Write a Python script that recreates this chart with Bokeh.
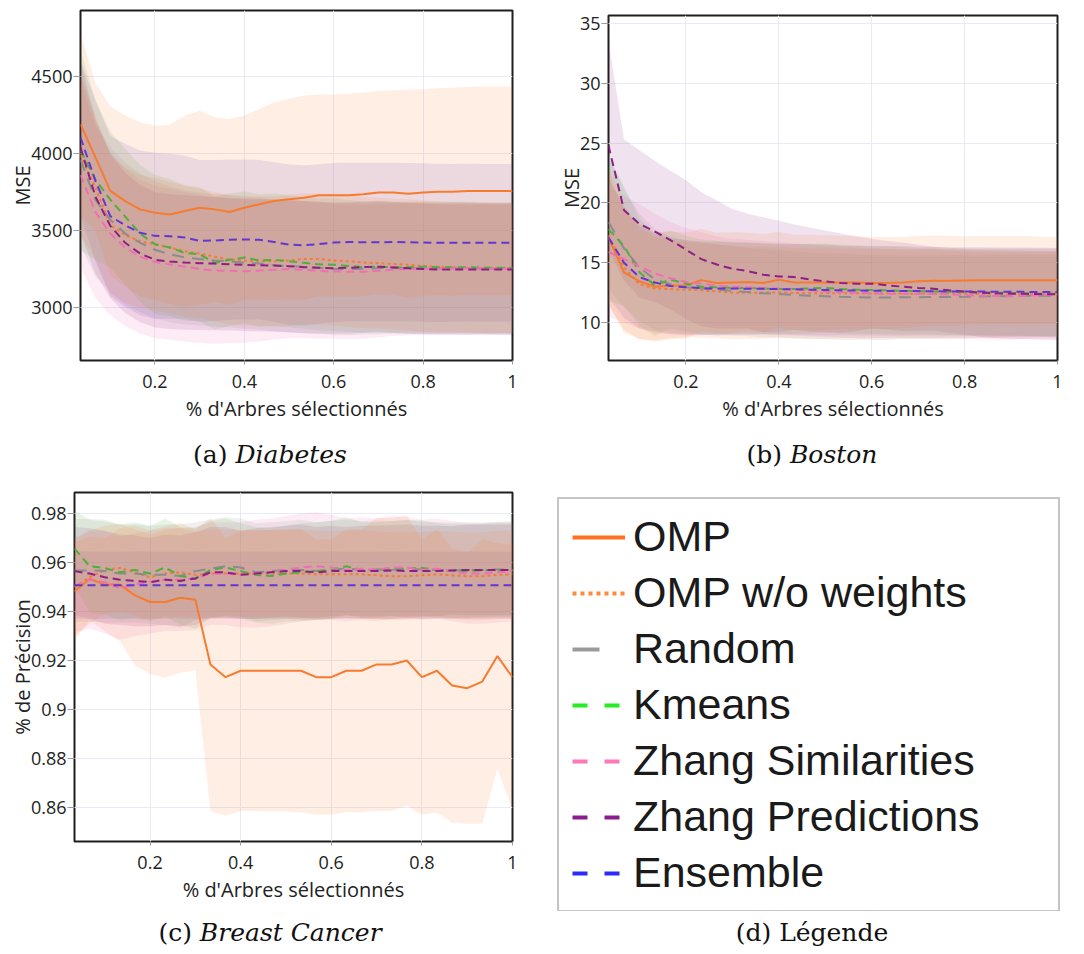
from bokeh.plotting import figure
from bokeh.models import Range1d, FixedTicker, Div, Legend, LegendItem
from bokeh.layouts import column, row
from bokeh.embed import file_html
from bokeh.resources import INLINE

# ---------------- data ----------------
X_FRAC = [0.0333, 0.0667, 0.1, 0.1333, 0.1667, 0.2, 0.2333, 0.2667, 0.3, 0.3333,
          0.3667, 0.4, 0.4333, 0.4667, 0.5, 0.5333, 0.5667, 0.6, 0.6333, 0.6667,
          0.7, 0.7333, 0.7667, 0.8, 0.8333, 0.8667, 0.9, 0.9333, 0.9667, 1.0]
X_TICKS = [0.2, 0.4, 0.6, 0.8, 1.0]
X_TICK_LABELS = ["0.2", "0.4", "0.6", "0.8", "1"]
X_TITLE = "% d'Arbres sélectionnés"

SERIES = ["OMP", "OMP w/o weights", "Random", "Kmeans",
          "Zhang Similarities", "Zhang Predictions", "Ensemble"]

# (a) Diabetes - MSE
DIA_Y_TICKS = [3000, 3500, 4000, 4500]
DIA_Y_TICK_LABELS = ["3000", "3500", "4000", "4500"]
DIA_OMP = [4190, 3975, 3757, 3691, 3637, 3615, 3604, 3626, 3648, 3637, 3620, 3648, 3670, 3691, 3702,
           3713, 3728, 3728, 3728, 3735, 3746, 3746, 3739, 3746, 3752, 3752, 3757, 3757, 3757, 3757]
DIA_OMP_SD = [590, 480, 550, 555, 565, 565, 583, 620, 630, 598, 604, 598, 619, 642, 652,
              663, 655, 655, 660, 660, 660, 665, 675, 670, 672, 675, 675, 678, 678, 678]
DIA_OMPW = [3990, 3780, 3535, 3470, 3430, 3410, 3390, 3365, 3350, 3330, 3311, 3305, 3300, 3300, 3305,
            3315, 3315, 3305, 3300, 3292, 3288, 3282, 3278, 3268, 3265, 3261, 3258, 3257, 3257, 3257]
DIA_OMPW_SD = [520, 470, 450, 440, 432, 430, 426, 425, 422, 420, 420, 421, 420, 422, 425,
               426, 425, 424, 425, 426, 425, 424, 425, 426, 425, 424, 425, 425, 424, 425]
DIA_RND = [3960, 3700, 3570, 3480, 3420, 3375, 3345, 3325, 3315, 3305, 3300, 3290, 3285, 3275, 3270,
           3262, 3258, 3250, 3250, 3252, 3255, 3258, 3255, 3255, 3253, 3255, 3255, 3252, 3252, 3255]
DIA_RND_SD = [560, 500, 470, 460, 450, 445, 440, 435, 432, 430, 428, 428, 430, 430, 432,
              430, 428, 430, 430, 428, 428, 426, 426, 425, 425, 425, 424, 424, 424, 424]
DIA_KM = [4020, 3830, 3700, 3590, 3480, 3410, 3390, 3354, 3345, 3290, 3310, 3325, 3305, 3310, 3300,
          3290, 3280, 3278, 3270, 3262, 3265, 3262, 3262, 3265, 3262, 3262, 3262, 3260, 3258, 3258]
DIA_KM_SD = [650, 520, 440, 440, 445, 450, 445, 440, 435, 432, 430, 428, 430, 430, 428,
             428, 428, 430, 428, 426, 426, 425, 425, 425, 424, 424, 424, 424, 424, 424]
DIA_ZS = [3860, 3620, 3480, 3390, 3330, 3295, 3280, 3265, 3250, 3240, 3238, 3236, 3240, 3245, 3250,
          3245, 3238, 3235, 3232, 3232, 3238, 3245, 3250, 3252, 3252, 3255, 3255, 3254, 3252, 3252]
DIA_ZS_SD = [600, 560, 530, 510, 500, 495, 490, 485, 480, 475, 470, 465, 460, 455, 450,
             445, 440, 438, 436, 434, 432, 430, 430, 428, 428, 426, 426, 425, 425, 425]
DIA_ZP = [4040, 3720, 3530, 3420, 3350, 3310, 3298, 3292, 3288, 3285, 3280, 3277, 3274, 3272, 3268,
          3262, 3258, 3255, 3258, 3262, 3265, 3260, 3255, 3250, 3247, 3246, 3246, 3247, 3246, 3246]
DIA_ZP_SD = [560, 500, 470, 455, 445, 440, 438, 436, 434, 432, 430, 430, 430, 428, 428,
             428, 428, 426, 426, 426, 426, 425, 425, 425, 424, 424, 424, 424, 424, 424]
DIA_ENS = [4104, 3822, 3593, 3533, 3485, 3465, 3463, 3455, 3432, 3435, 3440, 3442, 3440, 3425, 3408,
           3404, 3412, 3422, 3425, 3424, 3424, 3425, 3424, 3422, 3420, 3420, 3421, 3420, 3420, 3420]
DIA_ENS_SD = [500, 520, 520, 530, 535, 540, 535, 530, 525, 522, 520, 518, 518, 518, 520,
              520, 518, 516, 515, 515, 515, 515, 514, 514, 514, 512, 512, 512, 512, 512]

# (b) Boston - MSE
BOS_Y_TICKS = [10, 15, 20, 25, 30, 35]
BOS_Y_TICK_LABELS = ["10", "15", "20", "25", "30", "35"]
BOS_OMP = [17.1, 14.2, 13.45, 13.0, 13.1, 13.1, 13.55, 13.3, 13.35, 13.4, 13.3, 13.58, 13.35, 13.35, 13.35,
           13.35, 13.35, 13.3, 13.3, 13.35, 13.45, 13.5, 13.5, 13.52, 13.53, 13.53, 13.53, 13.53, 13.53, 13.53]
BOS_OMP_SD = [5.5, 5.1, 4.8, 4.6, 4.5, 4.4, 4.3, 4.2, 4.2, 4.1, 4.1, 4.0, 4.0, 4.0, 3.95,
              3.9, 3.9, 3.85, 3.85, 3.8, 3.8, 3.75, 3.75, 3.7, 3.7, 3.7, 3.7, 3.7, 3.65, 3.65]
BOS_OMPW = [17.3, 14.6, 13.2, 12.85, 12.8, 12.75, 12.7, 12.6, 12.5, 12.48, 12.5, 12.52, 12.48, 12.45, 12.45,
            12.45, 12.45, 12.43, 12.43, 12.42, 12.42, 12.42, 12.4, 12.4, 12.4, 12.4, 12.4, 12.38, 12.38, 12.38]
BOS_OMPW_SD = [5.8, 5.2, 4.6, 4.3, 4.1, 4.0, 3.95, 3.9, 3.9, 3.85, 3.85, 3.8, 3.8, 3.8, 3.8,
               3.75, 3.75, 3.75, 3.7, 3.7, 3.7, 3.7, 3.65, 3.65, 3.65, 3.65, 3.6, 3.6, 3.6, 3.6]
BOS_RND = [18.4, 16.2, 14.6, 13.6, 13.2, 12.95, 12.85, 12.75, 12.65, 12.55, 12.45, 12.4, 12.3, 12.25, 12.2,
           12.15, 12.12, 12.1, 12.1, 12.12, 12.12, 12.13, 12.14, 12.15, 12.18, 12.2, 12.22, 12.25, 12.25, 12.25]
BOS_RND_SD = [5.6, 4.9, 4.5, 4.2, 4.0, 3.9, 3.85, 3.8, 3.75, 3.7, 3.7, 3.65, 3.65, 3.6, 3.6,
              3.6, 3.55, 3.55, 3.55, 3.5, 3.5, 3.5, 3.5, 3.5, 3.45, 3.45, 3.45, 3.45, 3.45, 3.45]
BOS_KM = [17.8, 16.4, 14.2, 13.1, 13.6, 13.25, 13.0, 12.95, 12.9, 12.9, 12.85, 12.8, 12.8, 12.85, 12.9,
          12.8, 12.75, 12.72, 12.7, 12.65, 12.62, 12.6, 12.58, 12.55, 12.52, 12.5, 12.48, 12.45, 12.42, 12.4]
BOS_KM_SD = [6.0, 5.0, 4.5, 4.2, 4.1, 4.0, 3.95, 3.9, 3.85, 3.8, 3.8, 3.75, 3.75, 3.75, 3.7,
             3.7, 3.7, 3.65, 3.65, 3.65, 3.6, 3.6, 3.6, 3.6, 3.55, 3.55, 3.55, 3.55, 3.55, 3.55]
BOS_ZS = [15.9, 15.3, 14.7, 14.1, 13.7, 13.4, 13.25, 13.1, 13.0, 12.95, 12.9, 12.85, 12.75, 12.7, 12.6,
          12.55, 12.5, 12.45, 12.42, 12.4, 12.4, 12.38, 12.35, 12.3, 12.25, 12.22, 12.2, 12.25, 12.3, 12.3]
BOS_ZS_SD = [5.4, 5.3, 5.2, 5.0, 4.7, 4.5, 4.3, 4.1, 4.0, 3.95, 3.9, 3.9, 3.85, 3.85, 3.8,
             3.8, 3.8, 3.75, 3.75, 3.7, 3.7, 3.7, 3.7, 3.65, 3.65, 3.65, 3.65, 3.6, 3.6, 3.6]
BOS_ZP = [24.8, 19.4, 18.25, 17.6, 16.9, 16.1, 15.3, 14.85, 14.5, 14.3, 14.0, 13.86, 13.8, 13.6, 13.45,
          13.3, 13.25, 13.25, 13.12, 13.0, 12.9, 12.83, 12.7, 12.6, 12.5, 12.45, 12.42, 12.4, 12.38, 12.36]
BOS_ZP_SD = [8.7, 5.9, 6.15, 5.9, 5.8, 5.8, 5.6, 5.35, 5.0, 4.8, 4.8, 4.65, 4.4, 4.35, 4.25,
             4.15, 3.95, 3.75, 3.7, 3.7, 3.6, 3.5, 3.55, 3.6, 3.7, 3.75, 3.78, 3.8, 3.82, 3.84]
BOS_ENS = [17.1, 15.0, 13.8, 13.35, 13.05, 12.95, 12.88, 12.85, 12.85, 12.83, 12.82, 12.8, 12.78, 12.75, 12.72,
           12.7, 12.68, 12.66, 12.65, 12.64, 12.63, 12.62, 12.6, 12.6, 12.6, 12.58, 12.58, 12.57, 12.55, 12.55]
BOS_ENS_SD = [5.0, 4.6, 4.3, 4.1, 4.0, 3.95, 3.9, 3.9, 3.85, 3.85, 3.8, 3.8, 3.8, 3.8, 3.8,
              3.75, 3.75, 3.75, 3.75, 3.75, 3.7, 3.7, 3.7, 3.7, 3.7, 3.7, 3.7, 3.7, 3.7, 3.7]

# (c) Breast Cancer - accuracy
BC_Y_TICKS = [0.86, 0.88, 0.9, 0.92, 0.94, 0.96, 0.98]
BC_Y_TICK_LABELS = ["0.86", "0.88", "0.9", "0.92", "0.94", "0.96", "0.98"]
BC_OMP = [0.9482, 0.9534, 0.951, 0.951, 0.9466, 0.9439, 0.9439, 0.9456, 0.9448, 0.9184,
          0.9132, 0.9158, 0.9158, 0.9158, 0.9158, 0.9158, 0.9132, 0.9132, 0.9158, 0.9158,
          0.9184, 0.9184, 0.92, 0.9132, 0.9158, 0.9098, 0.9087, 0.9114, 0.9218, 0.9132]
BC_OMP_SD = [0.020, 0.017, 0.019, 0.023, 0.0286, 0.0294, 0.0309, 0.0306, 0.0288, 0.0598,
             0.0566, 0.0572, 0.0572, 0.0575, 0.0575, 0.0578, 0.0562, 0.0562, 0.0578, 0.0578,
             0.0598, 0.0598, 0.0593, 0.0562, 0.0578, 0.056, 0.0553, 0.058, 0.0461, 0.0539]
BC_OMPW = [0.950, 0.954, 0.957, 0.9578, 0.956, 0.954, 0.9555, 0.956, 0.955, 0.9555,
           0.9555, 0.9555, 0.9555, 0.9555, 0.9555, 0.9555, 0.9552, 0.9552, 0.9552, 0.9552,
           0.9548, 0.9544, 0.9544, 0.9548, 0.9552, 0.9548, 0.9544, 0.9544, 0.955, 0.9552]
BC_OMPW_SD = [0.020, 0.019, 0.018, 0.018, 0.0175, 0.0175, 0.018, 0.018, 0.0175, 0.018,
              0.018, 0.0178, 0.0178, 0.0178, 0.018, 0.018, 0.018, 0.0178, 0.0178, 0.018,
              0.018, 0.018, 0.0178, 0.0178, 0.0178, 0.0178, 0.018, 0.018, 0.018, 0.018]
BC_RND = [0.9568, 0.9568, 0.9565, 0.9555, 0.9555, 0.955, 0.955, 0.9545, 0.9565, 0.9575,
          0.9585, 0.958, 0.956, 0.9565, 0.957, 0.957, 0.9565, 0.957, 0.9575, 0.957,
          0.9572, 0.957, 0.9575, 0.9572, 0.957, 0.9568, 0.957, 0.957, 0.9572, 0.957]
BC_RND_SD = [0.021, 0.021, 0.021, 0.020, 0.020, 0.020, 0.0205, 0.021, 0.020, 0.020,
             0.020, 0.020, 0.020, 0.020, 0.020, 0.0205, 0.020, 0.020, 0.020, 0.020,
             0.020, 0.020, 0.020, 0.0195, 0.0195, 0.0195, 0.0195, 0.0195, 0.0195, 0.0195]
BC_KM = [0.9657, 0.9585, 0.9578, 0.956, 0.957, 0.9555, 0.958, 0.9545, 0.9535, 0.957,
         0.958, 0.9565, 0.955, 0.9545, 0.9555, 0.956, 0.9565, 0.957, 0.9585, 0.957,
         0.957, 0.9575, 0.9578, 0.9578, 0.957, 0.9565, 0.9565, 0.9568, 0.957, 0.957]
BC_KM_SD = [0.0155, 0.019, 0.019, 0.0195, 0.0195, 0.0195, 0.020, 0.020, 0.0205, 0.020,
            0.020, 0.0195, 0.0195, 0.0195, 0.0195, 0.020, 0.020, 0.020, 0.020, 0.0195,
            0.0195, 0.0195, 0.0195, 0.0195, 0.019, 0.019, 0.019, 0.019, 0.019, 0.019]
BC_ZS = [0.9505, 0.953, 0.952, 0.9495, 0.951, 0.952, 0.953, 0.953, 0.9535, 0.9555,
         0.9555, 0.955, 0.9555, 0.956, 0.957, 0.958, 0.9585, 0.958, 0.957, 0.9575,
         0.957, 0.958, 0.958, 0.957, 0.9575, 0.9565, 0.9555, 0.9555, 0.956, 0.9565]
BC_ZS_SD = [0.019, 0.020, 0.021, 0.021, 0.021, 0.021, 0.021, 0.021, 0.021, 0.021,
            0.021, 0.0215, 0.022, 0.022, 0.022, 0.022, 0.022, 0.0215, 0.021, 0.021,
            0.021, 0.021, 0.0205, 0.0205, 0.0205, 0.0205, 0.0205, 0.0205, 0.0205, 0.0205]
BC_ZP = [0.9565, 0.9555, 0.954, 0.953, 0.9525, 0.952, 0.953, 0.9525, 0.9535, 0.956,
         0.956, 0.955, 0.9555, 0.956, 0.9565, 0.9565, 0.956, 0.9565, 0.9565, 0.9565,
         0.9565, 0.9568, 0.9565, 0.9565, 0.9565, 0.9568, 0.957, 0.957, 0.957, 0.957]
BC_ZP_SD = [0.018, 0.0185, 0.019, 0.0185, 0.0185, 0.018, 0.0185, 0.0185, 0.019, 0.0185,
            0.0185, 0.018, 0.0185, 0.0185, 0.0185, 0.019, 0.0185, 0.0185, 0.018, 0.0185,
            0.0185, 0.0185, 0.019, 0.0185, 0.0185, 0.018, 0.0185, 0.0185, 0.0185, 0.0185]
BC_ENS = [0.9507, 0.9507, 0.9507, 0.9507, 0.9507, 0.9507, 0.9507, 0.9507, 0.9507, 0.9507,
          0.9507, 0.9507, 0.9507, 0.9507, 0.9507, 0.9507, 0.9507, 0.9507, 0.9507, 0.9507,
          0.9507, 0.9507, 0.9507, 0.9507, 0.9507, 0.9507, 0.9507, 0.9507, 0.9507, 0.9507]
BC_ENS_SD = [0.0137, 0.0138, 0.0137, 0.0137, 0.0138, 0.0137, 0.0137, 0.0137, 0.0138, 0.0137,
             0.0137, 0.0137, 0.0138, 0.0137, 0.0137, 0.0137, 0.0137, 0.0138, 0.0137, 0.0137,
             0.0137, 0.0138, 0.0137, 0.0137, 0.0137, 0.0137, 0.0138, 0.0137, 0.0137, 0.0137]

CAPTIONS = [("(a) ", "Diabetes"), ("(b) ", "Boston"), ("(c) ", "Breast Cancer"), ("(d) Légende", "")]

# ---------------- styles ----------------
LINE_COLORS = ["#f77b2e", "#f47c36", "#8c8c8c", "#4fae3c", "#f06eb4", "#8e1f86", "#6236d4"]
BAND_COLORS = ["#f77b2e", "#f47c36", "#8c8c8c", "#4fae3c", "#f06eb4", "#8e1f86", "#6440dc"]
LINE_DASHES = ["solid", "3 3", "12 8", "8 5", "8 5", "8 5", "8 5"]
LEG_COLORS = ["#ff7020", "#ff8a3a", "#9a9a9a", "#22ee22", "#ff77bb", "#8b1c8b", "#2a2aff"]
LEG_DASHES = ["solid", "4 4", "27 40", "15 17", "15 17", "15 17", "15 17"]
TICK_FONT = "Open Sans"


def make_panel(means, sds, width, height, y_rng, y_ticks, y_labels, y_title, borders):
    p = figure(width=width, height=height, output_backend="svg", toolbar_location=None,
               title=None,
               x_range=Range1d(X_FRAC[0], X_FRAC[-1]), y_range=Range1d(*y_rng),
               min_border_left=borders[0], min_border_right=borders[1],
               min_border_top=borders[2], min_border_bottom=borders[3])
    p.background_fill_color = "white"
    p.border_fill_color = "white"
    p.outline_line_color = "#1e1e1e"
    p.outline_line_width = 2
    # bands drawn in reverse series order so that the OMP band ends on top
    for m, s, c in reversed(list(zip(means, sds, BAND_COLORS))):
        lo = [a - b for a, b in zip(m, s)]
        hi = [a + b for a, b in zip(m, s)]
        p.varea(x=X_FRAC, y1=lo, y2=hi, fill_color=c, fill_alpha=0.13)
    for m, c, d in zip(means, LINE_COLORS, LINE_DASHES):
        p.line(X_FRAC, m, line_color=c, line_width=2, line_dash=d)
    p.xaxis.ticker = FixedTicker(ticks=X_TICKS)
    p.xaxis.major_label_overrides = dict(zip(X_TICKS, X_TICK_LABELS))
    p.yaxis.ticker = FixedTicker(ticks=y_ticks)
    p.yaxis.major_label_overrides = dict(zip(y_ticks, y_labels))
    p.xaxis.axis_label = X_TITLE
    p.yaxis.axis_label = y_title
    for ax in (p.xaxis, p.yaxis):
        ax.axis_line_color = None
        ax.major_tick_line_color = "#9a9a9a"
        ax.minor_tick_line_color = None
        ax.major_tick_in = 0
        ax.major_label_text_font = TICK_FONT
        ax.major_label_text_font_size = "18px"
        ax.major_label_text_color = "#222222"
        ax.axis_label_text_font = TICK_FONT
        ax.axis_label_text_font_size = "20px"
        ax.axis_label_text_font_style = "normal"
        ax.axis_label_text_color = "#222222"
    p.xaxis.major_tick_out = 4
    p.xaxis.major_label_standoff = 10
    p.xaxis.axis_label_standoff = 4
    p.yaxis.major_tick_out = 7
    p.yaxis.major_label_standoff = 1
    p.yaxis.axis_label_standoff = -8
    p.grid.grid_line_color = "#e8ebf5"
    p.grid.grid_line_width = 1
    p.xgrid.ticker = FixedTicker(ticks=X_TICKS)
    p.ygrid.ticker = FixedTicker(ticks=y_ticks)
    return p


pa = make_panel([DIA_OMP, DIA_OMPW, DIA_RND, DIA_KM, DIA_ZS, DIA_ZP, DIA_ENS],
                [DIA_OMP_SD, DIA_OMPW_SD, DIA_RND_SD, DIA_KM_SD, DIA_ZS_SD, DIA_ZP_SD, DIA_ENS_SD],
                540, 430, (2656, 4928), DIA_Y_TICKS, DIA_Y_TICK_LABELS, "MSE", (80, 28, 10, 70))
pb = make_panel([BOS_OMP, BOS_OMPW, BOS_RND, BOS_KM, BOS_ZS, BOS_ZP, BOS_ENS],
                [BOS_OMP_SD, BOS_OMPW_SD, BOS_RND_SD, BOS_KM_SD, BOS_ZS_SD, BOS_ZP_SD, BOS_ENS_SD],
                544, 430, (6.83, 35.67), BOS_Y_TICKS, BOS_Y_TICK_LABELS, "MSE", (68, 27, 15, 70))
pc = make_panel([BC_OMP, BC_OMPW, BC_RND, BC_KM, BC_ZS, BC_ZP, BC_ENS],
                [BC_OMP_SD, BC_OMPW_SD, BC_RND_SD, BC_KM_SD, BC_ZS_SD, BC_ZP_SD, BC_ENS_SD],
                540, 431, (0.8461, 0.9886), BC_Y_TICKS, BC_Y_TICK_LABELS, "% de Précision", (74, 28, 12, 70))

# legend panel: the legend's sample lines come from renderers of the Diabetes
# means, which lie outside this panel's (hidden) ranges and are therefore clipped.
pl = figure(width=544, height=431, output_backend="svg", toolbar_location=None,
            title=None, x_axis_type=None, y_axis_type=None, min_border=0,
            x_range=Range1d(0, 1), y_range=Range1d(0, 1))
pl.outline_line_color = None
pl.grid.visible = False
items = []
for name, m, c, d in zip(SERIES, [DIA_OMP, DIA_OMPW, DIA_RND, DIA_KM, DIA_ZS, DIA_ZP, DIA_ENS],
                         LEG_COLORS, LEG_DASHES):
    r = pl.line(X_FRAC, m, line_color=c, line_width=4, line_dash=d)
    items.append(LegendItem(label=name, renderers=[r]))
leg = Legend(items=items, location="top_left", margin=17, padding=13, spacing=7,
             label_height=48, glyph_height=48, glyph_width=53, label_standoff=8,
             label_width=412,
             label_text_font="Liberation Sans", label_text_font_size="43px",
             label_text_color="#1a1a1a", border_line_color="#8c8c8c", border_line_width=2,
             background_fill_color="white", background_fill_alpha=1.0)
pl.add_layout(leg)


def caption(pre, ital, w, h):
    html = ('<div style="width:%dpx;height:%dpx;line-height:%dpx;text-align:center;'
            'font-family:\'DejaVu Serif\',serif;font-size:25px;color:#111;">%s<i>%s</i></div>'
            % (w, h, h, pre, ital))
    return Div(text=html, width=w, height=h, margin=0)


da = caption(CAPTIONS[0][0], CAPTIONS[0][1], 540, 50)
db = caption(CAPTIONS[1][0], CAPTIONS[1][1], 544, 50)
dc = caption(CAPTIONS[2][0], CAPTIONS[2][1], 540, 43)
dd = caption(CAPTIONS[3][0], CAPTIONS[3][1], 544, 43)

# each figure wrapped in its own column so that frames are not aligned across a row
layout = column(row(column(pa), column(pb), spacing=0), row(da, db, spacing=0),
                row(column(pc), column(pl), spacing=0), row(dc, dd, spacing=0), spacing=0)

open("out.html", "w").write(file_html(layout, INLINE))
